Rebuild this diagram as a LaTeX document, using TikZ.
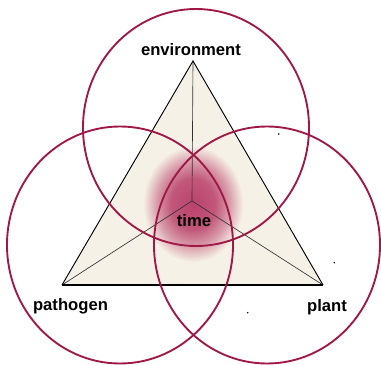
\documentclass[tikz,border=0pt]{standalone}
\usepackage{fontspec}
\setmainfont{Liberation Sans}
\usepackage{tikz}
\usetikzlibrary{positioning}

\definecolor{triback}{RGB}{245,241,230}
\definecolor{ringred}{RGB}{160,24,72}
\definecolor{blobred}{RGB}{186,66,108}

\pgfdeclareradialshading{timeblob}{\pgfpoint{0bp}{0bp}}{color(0bp)=(blobred); color(11bp)=(blobred!88!triback); color(18bp)=(blobred!50!triback); color(25bp)=(triback); color(50bp)=(triback)}

\begin{document}
\begin{tikzpicture}[
    x=0.03cm, y=-0.03cm,
    label_node/.style={font=\fontsize{14.2}{17}\selectfont\bfseries, inner sep=0pt},
    ring/.style={draw=ringred, line width=1.6pt},
    side/.style={draw=black, line width=0.8pt},
    spoke/.style={draw=black!80, line width=0.55pt},
    speck/.style={fill=black}
]
    \useasboundingbox (0,0) rectangle (381,365);

    \coordinate (top) at (193,61);
    \coordinate (lft) at (62,285);
    \coordinate (rgt) at (323,285);
    \coordinate (mid) at (192,201);

    % triangle and shaded centre
    \fill[triback] (top) -- (lft) -- (rgt) -- cycle;
    \begin{scope}
        \clip (top) -- (lft) -- (rgt) -- cycle;
        \shade[shading=timeblob] (193,204) ellipse [x radius=50, y radius=58];
    \end{scope}

    \draw[spoke] (top) -- (mid);
    \draw[spoke] (lft) -- (mid);
    \draw[spoke] (rgt) -- (mid);
    \draw[side] (lft) -- (top) -- (rgt);
    \draw[side, line width=1.7pt] (lft) -- (rgt);

    % the three circles
    \draw[ring] (196,127.5) ellipse [x radius=113, y radius=118.5];
    \draw[ring] (120,245) ellipse [x radius=113, y radius=118.5];
    \draw[ring] (267,245) ellipse [x radius=113, y radius=118.5];

    \node[label_node, anchor=base] (env) at (191,55.5) {environment};
    \node[label_node, anchor=base] (path) at (70.5,310) {pathogen};
    \node[label_node, anchor=base] (plant) at (327,311) {plant};
    \node[label_node, anchor=base] (time) at (194,226.5) {time};

    \fill[speck] (278.7,134) circle (0.8);
    \fill[speck] (334.3,262.7) circle (0.8);
    \fill[speck] (247.7,312.7) circle (0.8);
\end{tikzpicture}
\end{document}
